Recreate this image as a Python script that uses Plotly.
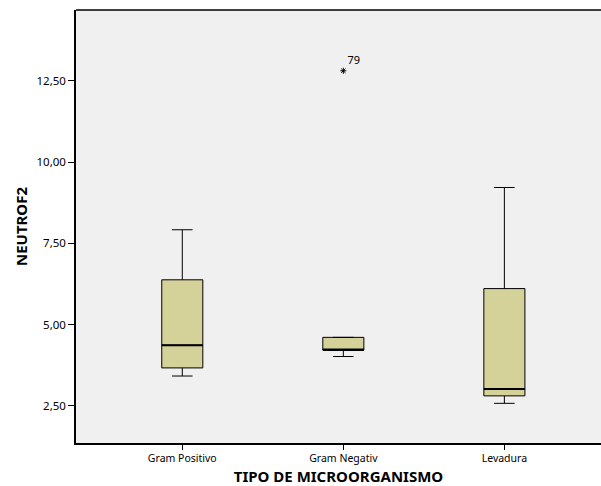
import plotly.graph_objects as go

# Five-number summaries of NEUTROF2 per microorganism type
categories = ["Gram Positivo", "Gram Negativ", "Levadura"]
lower_whisker = [3.42, 4.02, 2.58]
q1_values = [3.67, 4.22, 2.81]
median_values = [4.37, 4.22, 3.02]
q3_values = [6.38, 4.61, 6.11]
upper_whisker = [7.92, 4.61, 9.22]

# Extreme value flagged by case number
outlier_category = ["Gram Negativ"]
outlier_value = [12.81]
outlier_case = ["79"]

y_ticks = [2.5, 5.0, 7.5, 10.0, 12.5]

BOX_FILL = "#d4d199"
BOX_WIDTH = 0.255

fig = go.Figure()

fig.add_trace(go.Box(
    x=categories,
    q1=q1_values,
    median=median_values,
    q3=q3_values,
    lowerfence=lower_whisker,
    upperfence=upper_whisker,
    fillcolor=BOX_FILL,
    line=dict(color="black", width=1),
    whiskerwidth=0.5,
    width=BOX_WIDTH,
    boxpoints=False,
    hoverinfo="skip",
    showlegend=False,
))

# Heavier median strokes drawn over each box
for i, m in enumerate(median_values):
    fig.add_shape(
        type="line", xref="x", yref="y",
        x0=i - BOX_WIDTH / 2, x1=i + BOX_WIDTH / 2, y0=m, y1=m,
        line=dict(color="black", width=2),
    )

fig.add_trace(go.Scatter(
    x=outlier_category,
    y=outlier_value,
    mode="markers+text",
    marker=dict(symbol="asterisk-open", size=5, color="black",
                line=dict(color="black", width=1)),
    text=outlier_case,
    textposition="top right",
    textfont=dict(family="Noto Sans", size=11, color="black"),
    showlegend=False,
    hoverinfo="skip",
))

# Top frame line of the plot area
fig.add_shape(
    type="line", xref="paper", yref="paper",
    x0=0, x1=1, y0=1, y1=1,
    line=dict(color="black", width=1.5),
)

fig.update_layout(
    width=601, height=486,
    margin=dict(l=76, r=0, t=10, b=43),
    paper_bgcolor="white",
    plot_bgcolor="#f0f0f0",
    separators=",.",
    font=dict(family="Noto Sans", size=10, color="black"),
    xaxis=dict(
        type="category",
        categoryorder="array",
        categoryarray=categories,
        range=[-0.66, 2.60],
        showgrid=False,
        zeroline=False,
        showline=True,
        linecolor="black",
        linewidth=1.5,
        ticks="outside",
        ticklen=5,
        tickcolor="black",
        tickfont=dict(family="Noto Sans", size=10.5),
        title=dict(text="<b>TIPO DE MICROORGANISMO</b>",
                   font=dict(family="Noto Sans", size=15), standoff=10),
    ),
    yaxis=dict(
        range=[1.36, 14.68],
        tickvals=y_ticks,
        tickformat=".2f",
        showgrid=False,
        zeroline=False,
        showline=True,
        linecolor="black",
        linewidth=1.5,
        ticks="outside",
        ticklen=6,
        tickcolor="black",
        ticklabelstandoff=0,
        tickfont=dict(family="Noto Sans", size=11.5),
        title=dict(text="<b>NEUTROF2</b>",
                   font=dict(family="Noto Sans", size=15), standoff=5),
    ),
)

fig.write_html("out.html")
